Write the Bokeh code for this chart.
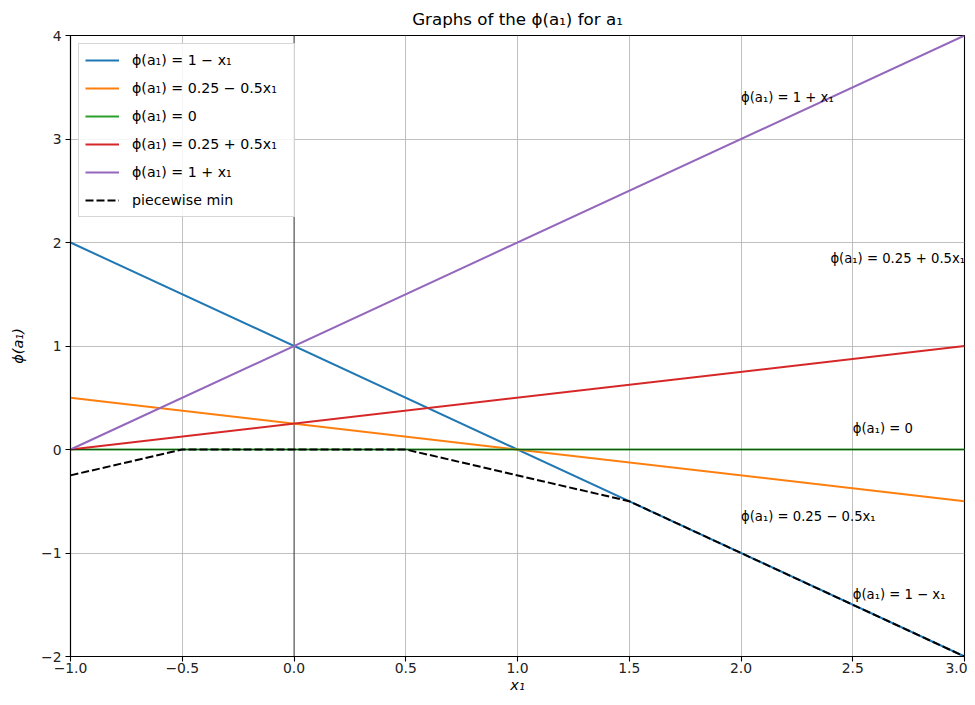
from bokeh.plotting import figure
from bokeh.models import (FixedTicker, CustomJSTickFormatter, Span, Legend, LegendItem,
                          ColumnDataSource, Range1d)
from bokeh.core.properties import value
from bokeh.embed import file_html
from bokeh.resources import INLINE

# ---- data ----
x_ends = [-1.0, 3.0]
y_one_minus_x = [2.0, -2.0]
y_quarter_minus = [0.5, -0.5]
y_zero = [0.0, 0.0]
y_quarter_plus = [0.0, 1.0]
y_one_plus_x = [0.0, 4.0]

pw_x = [-1.0, -0.5, 0.5, 1.5, 3.0]
pw_y = [-0.25, 0.0, 0.0, -0.5, -2.0]

series_labels = ["ϕ(a₁) = 1 − x₁", "ϕ(a₁) = 0.25 − 0.5x₁", "ϕ(a₁) = 0",
                 "ϕ(a₁) = 0.25 + 0.5x₁", "ϕ(a₁) = 1 + x₁", "piecewise min"]
series_colors = ["#1f77b4", "#ff7f0e", "#2ca02c", "#d62728", "#9467bd", "black"]

ann_text = ["ϕ(a₁) = 1 + x₁", "ϕ(a₁) = 0.25 + 0.5x₁", "ϕ(a₁) = 0",
            "ϕ(a₁) = 0.25 − 0.5x₁", "ϕ(a₁) = 1 − x₁"]
ann_x = [2.0, 2.4, 2.5, 2.0, 2.5]
ann_y = [3.4, 1.85, 0.2, -0.65, -1.4]

x_ticks = [-1.0, -0.5, 0.0, 0.5, 1.0, 1.5, 2.0, 2.5, 3.0]
y_ticks = [-2, -1, 0, 1, 2, 3, 4]

FONT = "DejaVu Sans"

p = figure(width=967, height=697, x_range=Range1d(-1, 3), y_range=Range1d(-2, 4),
           output_backend="svg", toolbar_location=None,
           min_border_left=70, min_border_right=3, min_border_top=35, min_border_bottom=41,
           background_fill_color="white", border_fill_color="white")

p.title.text = "Graphs of the ϕ(a₁) for a₁"
p.title.align = "center"
p.title.text_font = FONT
p.title.text_font_size = "16.7px"
p.title.text_font_style = "normal"
p.title.text_color = "black"
p.title.standoff = 13

# grid
p.grid.grid_line_color = "#b0b0b0"
p.grid.grid_line_width = 0.8

# axes
for ax in (p.xaxis, p.yaxis):
    ax.axis_line_color = "black"
    ax.axis_line_width = 1.1
    ax.major_tick_line_color = "black"
    ax.major_tick_line_width = 1.1
    ax.major_tick_in = 0
    ax.major_tick_out = 5
    ax.minor_tick_in = 0
    ax.minor_tick_out = 0
    ax.major_label_text_font = FONT
    ax.major_label_text_font_size = "13.9px"
    ax.major_label_text_color = "#222222"
    ax.axis_label_text_font = FONT
    ax.axis_label_text_font_size = "14.5px"
    ax.axis_label_text_font_style = "italic"
    ax.axis_label_text_color = "black"

p.xaxis.ticker = FixedTicker(ticks=x_ticks)
p.yaxis.ticker = FixedTicker(ticks=y_ticks)
p.xaxis.formatter = CustomJSTickFormatter(code="return tick.toFixed(1).replace('-', '\\u2212');")
p.yaxis.formatter = CustomJSTickFormatter(code="return tick.toFixed(0).replace('-', '\\u2212');")
p.xaxis.axis_label = "x₁"
p.yaxis.axis_label = "ϕ(a₁)"
p.xaxis.major_label_standoff = 1
p.xaxis.axis_label_standoff = 1
p.yaxis.major_label_standoff = 4
p.yaxis.axis_label_standoff = 12

p.outline_line_color = "black"
p.outline_line_width = 1.1
p.outline_line_alpha = 1.0

# reference lines
vspan = Span(location=0, dimension="height", line_color="black", line_width=0.9,
             line_alpha=0.75, level="underlay")
p.add_layout(vspan)

ys = [y_one_minus_x, y_quarter_minus, y_zero, y_quarter_plus, y_one_plus_x]
renderers = []
for yv, c in zip(ys, series_colors[:5]):
    renderers.append(p.line(x_ends, yv, line_color=c, line_width=2))

hspan = Span(location=0, dimension="width", line_color="black", line_width=0.7,
             line_alpha=0.7)
p.add_layout(hspan)

renderers.append(p.line(pw_x, pw_y, line_color="black", line_width=2, line_dash="8 3"))

src = ColumnDataSource(dict(x=ann_x, y=ann_y, t=ann_text))
p.text(x="x", y="y", text="t", source=src, text_font=value(FONT),
       text_font_size=value("13.2px"), text_color="black",
       text_baseline="alphabetic", text_align="left")

legend = Legend(items=[LegendItem(label=l, renderers=[r]) for l, r in zip(series_labels, renderers)],
                location="top_left", margin=8, padding=6, spacing=8,
                glyph_width=34, glyph_height=20, label_height=20, label_width=156,
                label_standoff=13,
                label_text_font=FONT, label_text_font_size="14.2px", label_text_color="black",
                border_line_color="#cccccc", border_line_alpha=0.8,
                background_fill_color="white", background_fill_alpha=0.85)
p.add_layout(legend)

open("out.html", "w").write(file_html(p, INLINE))
